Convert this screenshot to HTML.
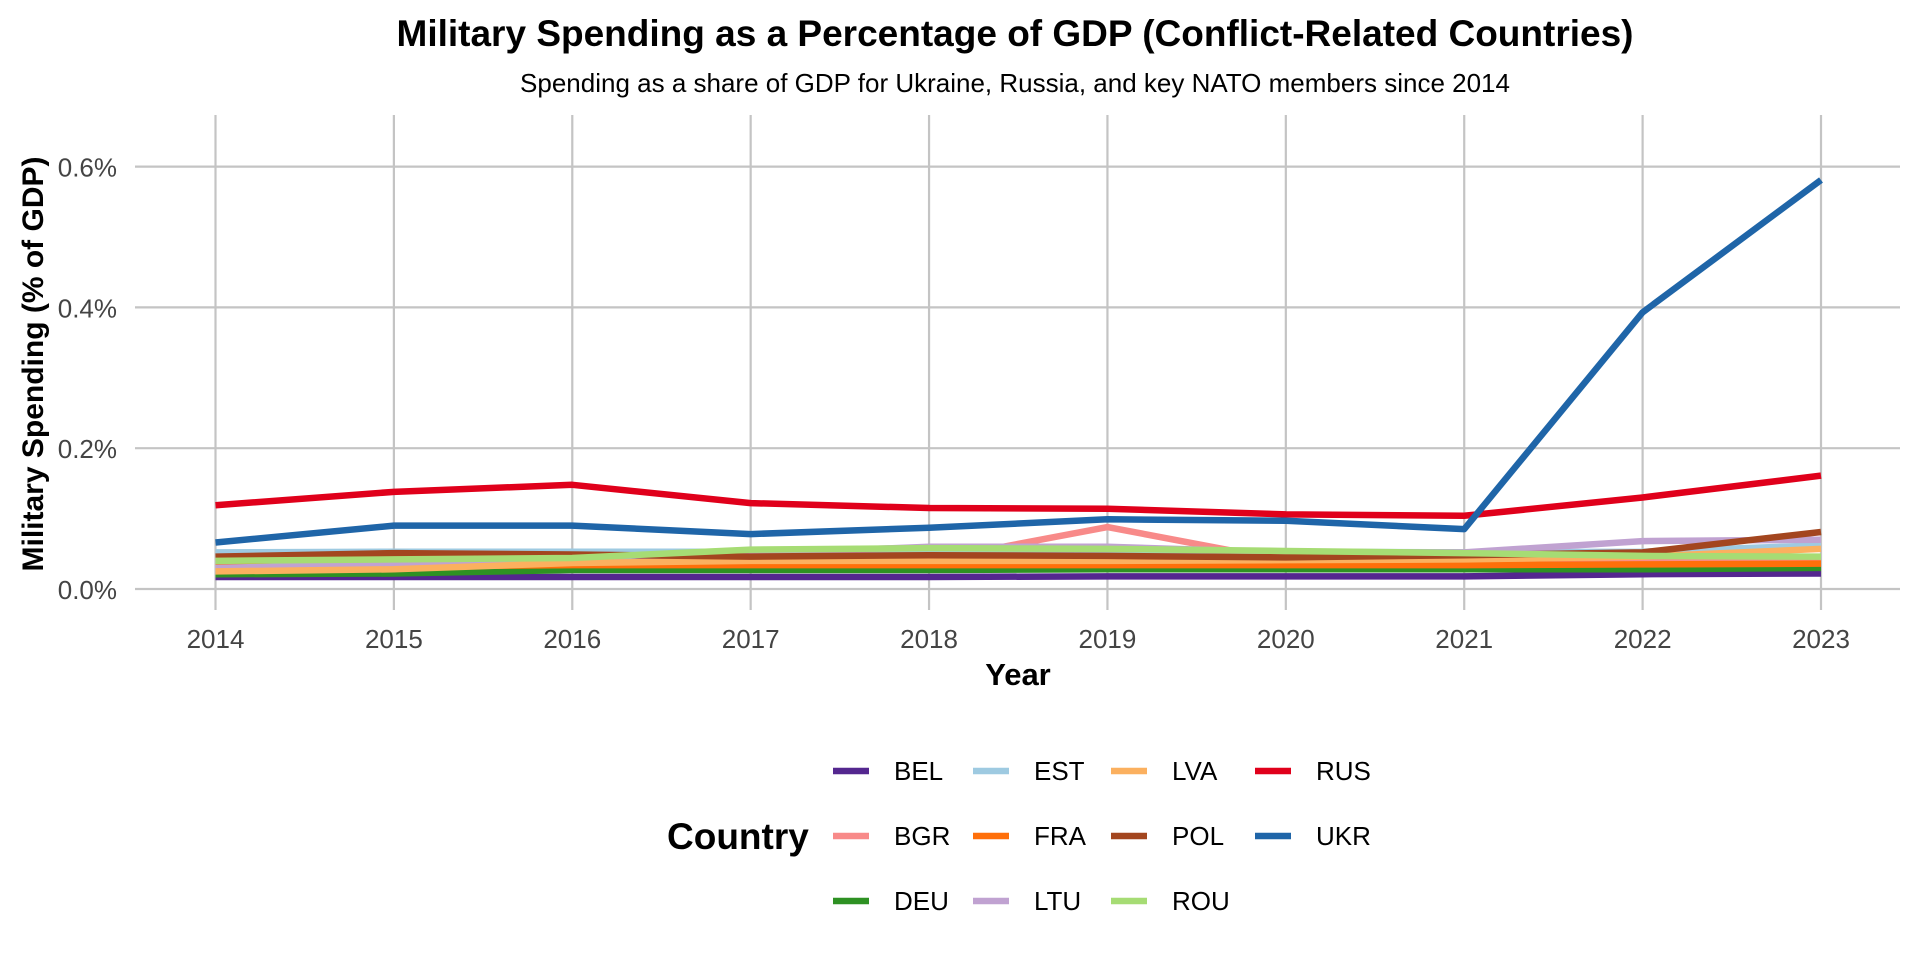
<!DOCTYPE html>
<html><head><meta charset="utf-8"><style>
body{margin:0;background:#fff;}
svg{display:block;font-family:"Liberation Sans",Arial,sans-serif;}
</style></head><body>
<svg id="chart" width="1920" height="960">
<text x="1015" y="46" text-anchor="middle" font-size="37" font-weight="bold">Military Spending as a Percentage of GDP (Conflict-Related Countries)</text>
<text x="1015" y="92" text-anchor="middle" font-size="26">Spending as a share of GDP for Ukraine, Russia, and key NATO members since 2014</text>
<g id="grid"></g><g id="lines"></g><g id="ticks"></g>
<text x="1018" y="685" text-anchor="middle" font-size="31" font-weight="bold">Year</text>
<text transform="translate(43,364) rotate(-90)" text-anchor="middle" font-size="30" font-weight="bold">Military Spending (% of GDP)</text>
<text x="667" y="849" font-size="37" font-weight="bold">Country</text>
<g id="legend"></g>
</svg>
<script>
const years=[2014,2015,2016,2017,2018,2019,2020,2021,2022,2023];
const yTicks=[0,0.2,0.4,0.6];
const yTickLabels=["0.0%","0.2%","0.4%","0.6%"];
const countries=["BEL","BGR","DEU","EST","FRA","LTU","LVA","POL","ROU","RUS","UKR"];
const colors=["#54278f","#f88a89","#2e9123","#9ecae1","#ff6f0a","#c0a2d1","#fbb05f","#a3461f","#a6dc74","#e0001b","#1f65a8"];
const BEL=[0.017,0.017,0.017,0.017,0.017,0.018,0.018,0.018,0.021,0.022];
const BGR=[0.030,0.031,0.034,0.036,0.040,0.088,0.040,0.042,0.042,0.045];
const DEU=[0.021,0.022,0.027,0.027,0.027,0.028,0.028,0.028,0.028,0.030];
const EST=[0.052,0.053,0.053,0.053,0.053,0.054,0.053,0.052,0.053,0.062];
const FRA=[0.032,0.032,0.034,0.034,0.034,0.034,0.034,0.034,0.035,0.036];
const LTU=[0.030,0.035,0.040,0.050,0.060,0.060,0.052,0.052,0.068,0.070];
const LVA=[0.025,0.028,0.037,0.040,0.040,0.040,0.041,0.042,0.046,0.057];
const POL=[0.046,0.051,0.049,0.046,0.048,0.047,0.045,0.048,0.052,0.081];
const ROU=[0.040,0.042,0.044,0.056,0.058,0.057,0.054,0.051,0.047,0.046];
const RUS=[0.119,0.138,0.148,0.122,0.115,0.114,0.106,0.104,0.130,0.161];
const UKR=[0.066,0.090,0.090,0.078,0.087,0.099,0.097,0.085,0.393,0.581];
const series=[BEL,BGR,DEU,EST,FRA,LTU,LVA,POL,ROU,RUS,UKR];
const NS="http://www.w3.org/2000/svg";
const x=v=>215.5+(v-2014)*(1821-215.5)/9;
const y=v=>589-v*704;
function mk(t,a,p){const e=document.createElementNS(NS,t);for(const k in a)e.setAttribute(k,a[k]);p.appendChild(e);return e;}
const grid=document.getElementById('grid'),ticks=document.getElementById('ticks');
years.forEach(yr=>{
 const l=mk('line',{x1:x(yr),x2:x(yr),y1:115,y2:610,stroke:'#c4c4c4','stroke-width':2.2},grid);
 
 
 const t=mk('text',{x:x(yr),y:648,'text-anchor':'middle','font-size':26,fill:'#444'},ticks);
 t.textContent=yr;
 
 
});
yTicks.forEach((v,i)=>{
 const l=mk('line',{x1:135,x2:1900,y1:y(v),y2:y(v),stroke:'#c4c4c4','stroke-width':2.2},grid);
 
 
 const t=mk('text',{x:117,y:y(v)+10,'text-anchor':'end','font-size':26,fill:'#444'},ticks);
 t.textContent=yTickLabels[i];
 
 
});
const lines=document.getElementById('lines');
series.forEach((s,i)=>{
 const p=mk('polyline',{points:s.map((v,j)=>x(years[j])+','+y(v)).join(' '),fill:'none',stroke:colors[i],'stroke-width':6.5,'stroke-linejoin':'round'},lines);
 
 
});
const legend=document.getElementById('legend');
const colX=[833,973,1111,1255],rowY=[771,836,901];
countries.forEach((c,i)=>{
 const col=Math.floor(i/3),row=i%3;
 const g=mk('g',{},legend);
 
 
 mk('line',{x1:colX[col],x2:colX[col]+36,y1:rowY[row],y2:rowY[row],stroke:colors[i],'stroke-width':6.5},g);
 const t=mk('text',{x:colX[col]+61,y:rowY[row]+9,'font-size':26},g);
 t.textContent=c;
});
</script>
</body></html>
